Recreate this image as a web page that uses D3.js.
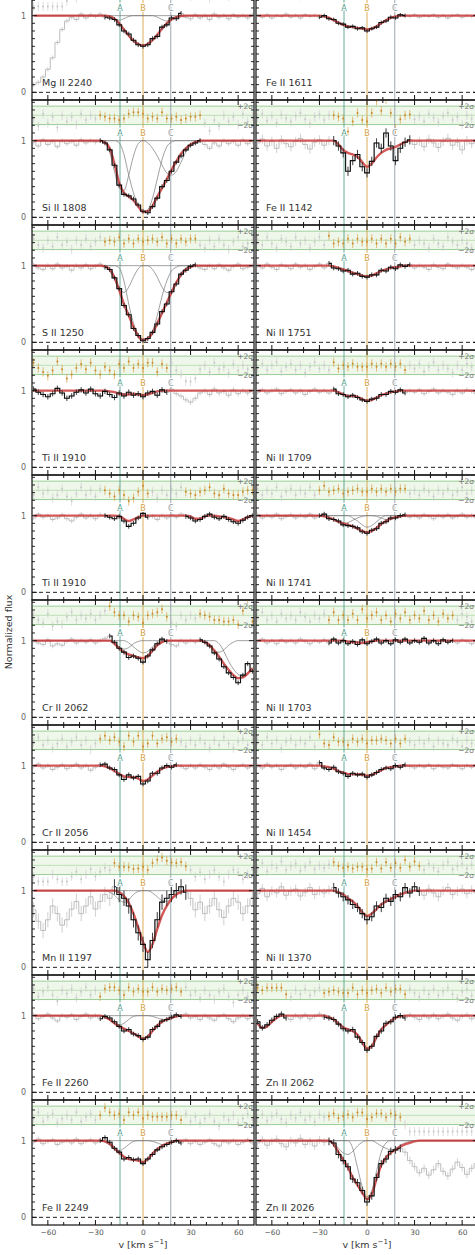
<!DOCTYPE html>
<html><head><meta charset="utf-8">
<script src="https://cdn.jsdelivr.net/npm/d3@7"></script>
<style>body{margin:0;background:#fff}svg{display:block}</style>
</head><body>
<script>
// velocity grid (km/s), one entry per spectral pixel
const velocity = [-69,-66,-63,-60,-57,-54,-51,-48,-45,-42,-39,-36,-33,-30,-27,-24,-21,-18,-15,-12,-9,-6,-3,0,3,6,9,12,15,18,21,24,27,30,33,36,39,42,45,48,51,54,57,60,63,66,69];

const panelLabels = ["Mg II 2240","Si II 1808","S II 1250","Ti II 1910","Ti II 1910","Cr II 2062","Cr II 2056","Mn II 1197","Fe II 2260","Fe II 2249",
                     "Fe II 1611","Fe II 1142","Ni II 1751","Ni II 1709","Ni II 1741","Ni II 1703","Ni II 1454","Ni II 1370","Zn II 2062","Zn II 2026"];
const componentNames = ["A","B","C"];
const componentVelocity = [-14.5, 0, 17.5];
const xTickLabels = [-60,-30,0,30,60];

// normalized flux
const fluxMgII2240 = [0.10,0.13,0.20,0.30,0.45,0.65,0.82,0.93,0.98,0.95,1.02,0.97,1.01,0.99,1.02,0.98, 0.97,0.95,0.88,0.80,0.76,0.68,0.62,0.60, 0.62,0.70,0.73,0.85,0.88,0.97,0.96,1.03,0.98,0.96,1.01,0.97, 1.00,0.95,1.02,0.98,1.00,0.96,1.01,0.98,1.00,0.97,1.01];
const fluxSiII1808 = [0.98,0.93,1.01,0.95,0.99,0.92,1.00,0.96,0.99,0.94,1.01,0.97,1.00,0.98,1.00,0.97, 0.88,0.68,0.42,0.30,0.28,0.24,0.16,0.08, 0.06,0.14,0.25,0.40,0.48,0.60,0.72,0.80,0.88,0.94,0.97,1.00, 0.95,0.90,0.97,0.93,1.00,0.96,0.99,0.94,1.01,0.96,0.99];
const fluxSII1250 = [1.01,0.97,0.95,1.00,0.96,1.02,0.97,0.99,0.94,1.00,0.97,1.01,0.96,0.99,1.02,0.98, 0.95,0.84,0.70,0.48,0.36,0.18,0.09,0.02, 0.05,0.13,0.24,0.40,0.50,0.66,0.76,0.89,0.94,0.99,1.01,0.97, 0.95,1.00,0.96,1.01,0.97,0.94,0.99,1.02,0.96,0.98,1.00];
const fluxTiII1910a = [1.02,0.98,0.95,0.92,0.96,1.03,0.97,0.90,0.93,0.98,1.01,0.97,1.02,0.96,0.93,0.99, 0.95,0.91,0.97,0.93,0.98,0.94,0.96,0.92, 0.97,0.99,0.94,1.01,0.98,1.02,0.96,0.93,0.88,0.85,0.90,0.97, 1.00,0.95,1.02,0.97,0.99,0.94,1.01,0.96,1.00,0.97,0.99];
const fluxTiII1910b = [0.97,1.02,0.98,1.00,0.95,0.97,1.01,0.96,0.93,0.98,1.02,0.97,1.00,0.96,1.01,1.00, 0.98,0.96,0.99,0.93,0.86,0.90,0.97,1.03, 0.98,0.99,0.95,1.00,0.97,1.01,0.98,1.02,0.99,0.97,0.93,0.95, 0.99,1.02,0.98,0.96,0.99,0.95,0.92,0.90,0.94,0.98,1.00];
const fluxCrII2062 = [1.00,0.97,0.95,1.01,0.93,0.96,0.94,0.99,1.02,0.97,1.00,0.98,1.01,0.97,1.00,1.03, 1.06,0.98,0.90,0.85,0.78,0.80,0.77,0.72, 0.80,0.88,0.96,1.02,0.99,0.95,0.93,1.00,0.97,1.00,0.98,1.01, 0.98,0.93,0.84,0.76,0.66,0.58,0.52,0.45,0.55,0.70,0.60];
const fluxCrII2056 = [0.99,1.02,0.97,1.00,0.95,0.98,1.01,0.96,0.99,1.02,0.97,1.00,0.94,0.98,1.01,1.02, 0.97,0.95,0.88,0.82,0.88,0.84,0.86,0.76, 0.80,0.90,0.90,0.97,1.00,0.98,1.01,0.99,0.96,1.00,0.97,1.01, 0.98,0.95,1.00,0.97,1.02,0.98,0.95,0.99,1.01,0.97,1.00];
const fluxMnII1197 = [0.75,0.60,0.48,0.62,0.80,0.70,0.55,0.62,0.76,0.86,0.70,0.80,0.92,0.76,0.86,0.95, 0.90,1.05,0.95,0.90,0.80,0.62,0.45,0.30, 0.10,0.35,0.62,0.85,0.90,0.95,1.00,1.05,0.98,0.90,0.75,0.85, 0.70,0.80,0.90,0.75,0.65,0.80,0.90,0.85,0.70,0.80,0.90];
const fluxFeII2260 = [1.01,0.96,0.99,1.02,0.97,0.93,1.00,0.98,1.01,0.95,0.99,1.02,0.97,1.00,0.96,0.99, 0.97,0.92,0.86,0.80,0.82,0.76,0.74,0.69, 0.72,0.82,0.86,0.93,0.95,0.98,1.01,0.99,1.02,0.97,0.99,0.95, 1.00,0.97,0.94,0.99,1.01,0.96,0.92,0.97,1.00,0.96,0.99];
const fluxFeII2249 = [0.98,1.02,0.96,0.99,1.01,0.95,0.98,1.00,0.97,1.02,0.96,0.99,1.01,0.97,1.00,1.04, 0.98,0.90,0.85,0.76,0.78,0.75,0.76,0.70, 0.76,0.82,0.88,0.92,0.95,0.98,1.00,0.97,1.01,0.96,0.99,0.95, 0.98,1.01,0.96,0.93,0.99,0.97,1.00,0.95,0.98,1.01,0.97];
const fluxFeII1611 = [1.00,0.98,1.01,0.97,1.00,0.99,1.02,0.98,1.00,0.97,1.01,0.99,1.00,0.98,1.00,0.96, 0.95,0.90,0.89,0.85,0.86,0.83,0.84,0.80, 0.83,0.85,0.91,0.93,0.98,0.97,1.01,1.00,0.99,1.01,0.98,1.00, 0.99,1.01,0.98,1.00,0.97,1.00,1.01,0.98,1.00,0.99,1.01];
const fluxFeII1142 = [0.97,1.02,0.93,0.99,0.90,1.01,0.96,0.92,0.99,1.03,0.95,0.89,0.98,1.01,0.94,1.00, 1.00,0.93,0.84,0.60,0.74,0.82,0.66,0.58, 0.73,0.97,0.90,1.10,0.93,0.74,0.90,0.98,1.01,0.95,0.99,0.92, 1.02,0.97,0.91,0.99,1.03,0.94,0.98,0.88,1.00,0.96,1.01];
const fluxNiII1751 = [1.00,0.97,1.02,0.98,0.95,1.01,0.99,0.96,1.02,0.98,1.00,0.95,0.99,1.02,0.97,1.03, 0.97,0.96,0.93,0.94,0.89,0.90,0.86,0.85, 0.88,0.88,0.94,0.93,0.98,0.96,1.01,0.99,1.01,0.97,1.00,0.98, 0.95,1.01,0.98,0.96,1.02,0.99,0.97,1.00,0.98,0.95,1.00];
const fluxNiII1709 = [0.98,1.01,0.97,1.00,1.02,0.96,0.99,1.01,0.97,1.00,0.95,0.99,1.02,0.98,1.00,0.97, 1.02,0.96,0.95,0.92,0.94,0.91,0.88,0.86, 0.89,0.90,0.95,0.95,0.99,0.98,1.01,0.97,1.00,0.98,1.01,0.96, 0.99,1.02,0.97,1.00,0.98,0.95,1.00,0.97,1.01,0.99,0.96];
const fluxNiII1741 = [1.01,0.97,1.00,0.98,1.02,0.96,0.99,1.01,0.97,1.00,0.98,1.02,0.97,1.00,1.02,0.96, 0.95,0.93,0.88,0.87,0.86,0.84,0.79,0.77, 0.81,0.83,0.90,0.92,0.97,0.97,1.00,1.01,0.98,1.00,0.97,1.01, 0.99,0.96,1.00,0.98,1.01,0.97,0.99,1.02,0.98,1.00,0.97];
const fluxNiII1703 = [0.99,1.02,0.97,1.00,0.96,1.01,0.98,1.00,0.97,1.02,0.99,0.96,1.00,0.98,1.01,0.97, 1.02,0.97,1.00,0.96,0.99,0.95,1.01,0.96, 0.99,1.02,0.97,1.00,0.96,1.01,0.98,1.02,0.97,1.00,0.98,1.03, 0.97,1.00,0.96,1.01,0.98,1.00,0.97,1.01,0.99,0.96,1.00];
const fluxNiII1454 = [1.00,0.97,1.02,0.98,1.00,0.95,0.99,1.01,0.97,1.00,0.98,1.02,0.96,1.04,0.97,0.95, 0.98,0.92,0.90,0.86,0.90,0.88,0.89,0.85, 0.88,0.91,0.95,0.97,0.96,1.00,0.98,1.01,0.99,0.97,1.00,0.98, 1.01,0.96,1.00,0.98,0.97,1.01,0.99,0.96,1.00,0.98,1.01];
const fluxNiII1370 = [0.96,1.03,0.92,1.00,0.97,1.05,0.94,0.99,1.02,0.93,0.98,1.04,0.95,1.00,0.97,1.01, 1.04,0.97,0.92,0.88,0.82,0.78,0.70,0.62, 0.66,0.80,0.78,0.90,0.86,0.95,0.92,1.04,0.97,1.05,0.99,0.94, 1.02,0.97,0.92,1.00,1.04,0.95,0.99,1.02,0.96,1.01,0.97];
const fluxZnII2062 = [0.92,0.84,0.88,0.94,0.99,1.02,0.97,0.95,1.00,0.97,1.01,0.96,0.99,1.02,0.98,0.97, 0.95,0.89,0.83,0.80,0.82,0.72,0.65,0.55, 0.60,0.73,0.80,0.90,0.92,0.98,1.00,0.97,1.01,0.98,0.95,1.00, 0.97,1.01,0.96,0.99,1.02,0.97,0.94,0.99,1.01,0.96,1.00];
const fluxZnII2026 = [0.97,1.01,0.94,0.99,1.02,0.96,0.92,1.00,0.97,1.03,0.95,0.99,0.93,1.01,0.98,0.99, 0.97,0.82,0.74,0.66,0.50,0.45,0.35,0.20, 0.28,0.52,0.70,0.76,0.86,0.88,0.90,0.85,0.74,0.66,0.58,0.64, 0.55,0.62,0.70,0.60,0.54,0.63,0.72,0.65,0.56,0.64,0.70];

// 1-sigma flux uncertainty per panel
const fluxErrors = [0.03,0.03,0.03,0.035,0.03,0.03,0.03,0.1,0.03,0.03, 0.025,0.06,0.03,0.03,0.03,0.03,0.03,0.06,0.035,0.05];

// velocity ranges included in the fit
const fitRanges = [
  [[-24,24]], [[-27,36]], [[-24,33]], [[-69,15]], [[-24,3],[27,69]], [[-21,15],[36,69]], [[-27,21]], [[-18,27]], [[-27,24]], [[-27,24]],
  [[-30,24]], [[-21,27]], [[-24,27]], [[-21,24]], [[-30,24]], [[-24,54]], [[-30,24]], [[-21,33]], [[-69,-51],[-27,24]], [[-24,21]]
];

// fitted profiles: [first velocity, values...]; continuum (1) elsewhere
function onGrid(...parts) {
  const out = velocity.map(() => 1);
  parts.forEach(([from, vals]) => {
    const i0 = velocity.indexOf(from);
    vals.forEach((f, k) => { if (i0 + k < out.length) out[i0 + k] = f; });
  });
  return out;
}

const modelMgII2240 = onGrid([-24, [1,0.99,0.96,0.9,0.82,0.74,0.67,0.63,0.61,0.63,0.68,0.75,0.83,0.9,0.95,0.98,0.995,1]]);
const modelSiII1808 = onGrid([-27, [1,0.98,0.9,0.7,0.45,0.32,0.27,0.22,0.14,0.07,0.08,0.15,0.27,0.38,0.5,0.62,0.73,0.83,0.9,0.95,0.98,1]]);
const modelSII1250 = onGrid([-27, [1,0.99,0.95,0.85,0.68,0.5,0.35,0.2,0.08,0.03,0.05,0.12,0.25,0.38,0.52,0.65,0.78,0.88,0.95,0.98,1]]);
const modelTiII1910a = onGrid([-24, [1,0.99,0.98,0.96,0.95,0.95,0.96,0.95,0.94,0.95,0.97,0.99,1]]);
const modelTiII1910b = onGrid([-18, [1,0.99,0.96,0.93,0.95,0.98,1]], [30, [0.99,0.96,0.96,0.99,1,1,0.99,0.98,0.97,0.95,0.93,0.95,0.98,1]]);
const modelCrII2062 = onGrid([-21, [1,0.96,0.9,0.85,0.82,0.8,0.78,0.77,0.8,0.87,0.94,0.98,1]], [36, [1,0.98,0.94,0.87,0.79,0.7,0.62,0.55,0.51,0.52,0.57,0.64]]);
const modelCrII2056 = onGrid([-27, [1,0.99,0.97,0.93,0.89,0.86,0.85,0.85,0.83,0.8,0.82,0.87,0.92,0.96,0.98,0.99,1]]);
const modelMnII1197 = onGrid([-18, [1,0.98,0.93,0.84,0.7,0.52,0.33,0.2,0.3,0.5,0.68,0.8,0.89,0.95,0.98,1]]);
const modelFeII2260 = onGrid([-27, [1,0.98,0.95,0.9,0.86,0.83,0.8,0.77,0.73,0.7,0.73,0.8,0.87,0.92,0.95,0.97,0.99,1]]);
const modelFeII2249 = onGrid([-27, [1,0.99,0.96,0.9,0.84,0.79,0.76,0.75,0.74,0.72,0.76,0.83,0.89,0.93,0.96,0.98,1]]);
const modelFeII1611 = onGrid([-30, [1,0.99,0.97,0.94,0.91,0.88,0.86,0.85,0.84,0.83,0.82,0.83,0.86,0.9,0.94,0.97,0.99,1]]);
const modelFeII1142 = onGrid([-21, [1,0.95,0.88,0.84,0.82,0.79,0.72,0.66,0.7,0.78,0.84,0.88,0.9,0.92,0.95,0.98,1]]);
const modelNiII1751 = onGrid([-24, [1,0.99,0.97,0.95,0.93,0.91,0.89,0.87,0.86,0.87,0.9,0.93,0.95,0.97,0.98,0.99,1]]);
const modelNiII1709 = onGrid([-21, [1,0.98,0.95,0.93,0.93,0.92,0.89,0.87,0.88,0.91,0.94,0.96,0.98,0.99,1]]);
const modelNiII1741 = onGrid([-30, [1,0.99,0.97,0.95,0.92,0.9,0.88,0.86,0.83,0.8,0.78,0.8,0.84,0.89,0.93,0.96,0.98,0.99,1]]);
const modelNiII1703 = onGrid([-15, [1,0.99,0.98,0.98,0.97,0.98,0.99,1]]);
const modelNiII1454 = onGrid([-30, [1,0.99,0.98,0.96,0.93,0.91,0.89,0.89,0.89,0.88,0.87,0.88,0.91,0.94,0.97,0.98,0.99,1]]);
const modelNiII1370 = onGrid([-21, [1,0.98,0.95,0.9,0.86,0.8,0.72,0.67,0.7,0.76,0.82,0.86,0.89,0.92,0.95,0.97,0.99,1]]);
const modelZnII2062 = onGrid([-69, [0.9,0.84,0.86,0.92,0.97,1]], [-27, [1,0.98,0.95,0.9,0.85,0.82,0.8,0.75,0.65,0.57,0.6,0.72,0.82,0.88,0.93,0.97,0.99,1]]);
const modelZnII2026 = onGrid([-24, [1,0.95,0.85,0.75,0.65,0.52,0.42,0.32,0.24,0.3,0.5,0.68,0.78,0.84,0.88,0.92,0.95,0.97,0.99,1]]);

// individual velocity components where they stand out from the total
const compsMgII2240 = [onGrid([-24, [1,0.98,0.95,0.94,0.96,0.99,1]]), onGrid([6, [1,0.98,0.95,0.93,0.95,0.98,1]])];
const compsSiII1808 = [
  onGrid([-27, [1,0.97,0.85,0.6,0.38,0.35,0.55,0.8,0.96,1]]),
  onGrid([-18, [1,0.97,0.82,0.55,0.32,0.16,0.08,0.1,0.25,0.5,0.75,0.92,0.98,1]]),
  onGrid([-3, [1,1,0.97,0.9,0.8,0.68,0.58,0.55,0.6,0.72,0.85,0.94,0.98,1]])];
const compsSII1250 = [
  onGrid([-27, [1,0.99,0.93,0.82,0.7,0.65,0.72,0.85,0.96,1]]),
  onGrid([-18, [1,0.97,0.8,0.5,0.25,0.1,0.04,0.06,0.15,0.35,0.6,0.8,0.93,0.98,1]]),
  onGrid([3, [1,0.95,0.85,0.72,0.65,0.66,0.78,0.9,0.97,1]])];
const compsCrII2062 = [
  onGrid([-21, [1,0.97,0.92,0.89,0.91,0.96,0.99,1]], [36, [1,0.98,0.93,0.87,0.85,0.88,0.94,0.98,1]]),
  onGrid([-12, [1,0.97,0.92,0.87,0.84,0.86,0.92,0.97,1]], [45, [1,0.96,0.86,0.73,0.63,0.56,0.54,0.58,0.65]])];
const compsMnII1197 = [onGrid([-24, [1,0.98,0.94,0.88,0.85,0.88,0.95,0.99,1]]), onGrid([3, [1,0.97,0.92,0.87,0.86,0.9,0.96,0.99,1]])];
const compsFeII2260 = [onGrid([-27, [1,0.98,0.94,0.9,0.88,0.9,0.95,0.99,1]]), onGrid([3, [1,0.99,0.97,0.95,0.94,0.96,0.99,1]])];
const compsFeII2249 = [onGrid([-27, [1,0.98,0.94,0.89,0.87,0.9,0.95,0.99,1]]), onGrid([3, [1,0.99,0.97,0.95,0.95,0.97,0.99,1]])];
const compsNiII1741 = [onGrid([-27, [1,0.98,0.95,0.92,0.9,0.91,0.94,0.97,0.99,1]]), onGrid([-12, [1,0.97,0.93,0.88,0.85,0.87,0.92,0.97,1]]), onGrid([3, [1,0.99,0.97,0.95,0.95,0.97,0.99,1]])];
const compsZnII2026 = [
  onGrid([-24, [1,0.97,0.9,0.84,0.82,0.86,0.93,0.98,1]]),
  onGrid([-12, [1,0.9,0.65,0.4,0.27,0.35,0.6,0.85,0.97,1]]),
  onGrid([3, [1,0.97,0.93,0.9,0.88,0.9,0.94,0.97,0.99,1]])];

const fluxes = [fluxMgII2240,fluxSiII1808,fluxSII1250,fluxTiII1910a,fluxTiII1910b,fluxCrII2062,fluxCrII2056,fluxMnII1197,fluxFeII2260,fluxFeII2249,
                fluxFeII1611,fluxFeII1142,fluxNiII1751,fluxNiII1709,fluxNiII1741,fluxNiII1703,fluxNiII1454,fluxNiII1370,fluxZnII2062,fluxZnII2026];
const models = [modelMgII2240,modelSiII1808,modelSII1250,modelTiII1910a,modelTiII1910b,modelCrII2062,modelCrII2056,modelMnII1197,modelFeII2260,modelFeII2249,
                modelFeII1611,modelFeII1142,modelNiII1751,modelNiII1709,modelNiII1741,modelNiII1703,modelNiII1454,modelNiII1370,modelZnII2062,modelZnII2026];
const components = [compsMgII2240,compsSiII1808,compsSII1250,[],[],compsCrII2062,[],compsMnII1197,compsFeII2260,compsFeII2249,
                    [],[],[],[],compsNiII1741,[],[],[],[],compsZnII2026];

// ---------------- drawing ----------------
const W = 475, H = 1255;
const svg = d3.select("body").append("svg").attr("width", W).attr("height", H)
  .style("font-family", "'DejaVu Sans', sans-serif");
const defs = svg.append("defs");

const columns = [[32, 254], [256, 478]];
const rowHeight = 125, firstTop = -25;
const yDomain = [-0.1, 1.53];
const resMid = 1.33, resHalf = 0.12;   // residual strip: centre and +-2 sigma
const compColor = ["#4f9c8b", "#d6a03c", "#8d9ca6"];

const stepLine = (x, y) => d3.line().x(d => x(d.v)).y(d => y(d.f)).curve(d3.curveStep);
const smoothLine = (x, y) => d3.line().x(d => x(d.v)).y(d => y(d.f)).curve(d3.curveMonotoneX);

panelLabels.forEach((label, k) => {
  const col = k < 10 ? 0 : 1, row = k % 10;
  const [xa, xb] = columns[col];
  const top = firstTop + rowHeight * row;
  const x = d3.scaleLinear().domain([-70, 70]).range([xa, xb]);
  const y = d3.scaleLinear().domain(yDomain).range([top + rowHeight, top]);
  const sigma = fluxErrors[k];
  const fits = fitRanges[k];
  const inFit = v => fits.some(([a, b]) => v >= a && v <= b);
  const pts = velocity.map((v, i) => ({ v, f: fluxes[k][i], m: models[k][i] }));

  const clipId = "clip" + k;
  defs.append("clipPath").attr("id", clipId).append("rect")
    .attr("x", xa).attr("y", top).attr("width", xb - xa).attr("height", rowHeight);
  const g = svg.append("g").attr("clip-path", `url(#${clipId})`);

  // residual strip
  g.append("rect").attr("x", xa).attr("width", xb - xa)
    .attr("y", y(resMid + resHalf)).attr("height", y(resMid - resHalf) - y(resMid + resHalf))
    .attr("fill", "#eef7ea");
  [resMid + resHalf, resMid, resMid - resHalf].forEach((lv, j) => {
    g.append("line").attr("x1", xa).attr("x2", xb).attr("y1", y(lv)).attr("y2", y(lv))
      .attr("stroke", j === 1 ? "#b9dcb0" : "#8fc98a").attr("stroke-width", 0.9);
  });

  // component markers
  componentVelocity.forEach((cv, j) => {
    g.append("line").attr("x1", x(cv)).attr("x2", x(cv)).attr("y1", top).attr("y2", top + rowHeight)
      .attr("stroke", compColor[j]).attr("stroke-width", 1).attr("opacity", 0.85);
  });

  // full spectrum in grey
  g.append("g").selectAll("line").data(pts).join("line")
    .attr("x1", d => x(d.v)).attr("x2", d => x(d.v))
    .attr("y1", d => y(d.f - sigma)).attr("y2", d => y(d.f + sigma))
    .attr("stroke", "#c4c4c4").attr("stroke-width", 0.8);
  g.append("path").datum(pts).attr("d", stepLine(x, y))
    .attr("fill", "none").attr("stroke", "#bdbdbd").attr("stroke-width", 1);

  // residuals
  const res = pts.map(d => ({ v: d.v, r: Math.max(-3.5, Math.min(3.5, (d.f - d.m) / sigma)), fit: inFit(d.v) }));
  const ry = r => y(resMid + r * resHalf / 2);
  g.append("g").selectAll("line").data(res).join("line")
    .attr("x1", d => x(d.v)).attr("x2", d => x(d.v))
    .attr("y1", d => ry(d.r - 1)).attr("y2", d => ry(d.r + 1))
    .attr("stroke", d => d.fit ? "#d9a24a" : "#d0d0d0").attr("stroke-width", 0.7);
  g.append("g").selectAll("circle").data(res).join("circle")
    .attr("cx", d => x(d.v)).attr("cy", d => ry(d.r)).attr("r", 1)
    .attr("fill", d => d.fit ? "#c98a2a" : "#c8c8c8");

  // individual components
  components[k].forEach(c => {
    g.append("path").datum(velocity.map((v, i) => ({ v, f: c[i] })))
      .attr("d", smoothLine(x, y)).attr("fill", "none")
      .attr("stroke", "#777").attr("stroke-width", 0.7);
  });

  // total model
  g.append("path").datum(pts.map(d => ({ v: d.v, f: d.m })))
    .attr("d", smoothLine(x, y)).attr("fill", "none")
    .attr("stroke", "#cc3b3b").attr("stroke-width", 2.4).attr("opacity", 0.85);

  // fitted pixels in black
  fits.forEach(([a, b]) => {
    const seg = pts.filter(d => d.v >= a && d.v <= b);
    g.append("g").selectAll("line").data(seg).join("line")
      .attr("x1", d => x(d.v)).attr("x2", d => x(d.v))
      .attr("y1", d => y(d.f - sigma)).attr("y2", d => y(d.f + sigma))
      .attr("stroke", "#222").attr("stroke-width", 0.8);
    g.append("path").datum(seg).attr("d", stepLine(x, y))
      .attr("fill", "none").attr("stroke", "#111").attr("stroke-width", 1.1);
  });

  // zero level
  g.append("line").attr("x1", xa).attr("x2", xb).attr("y1", y(0)).attr("y2", y(0))
    .attr("stroke", "#222").attr("stroke-width", 1).attr("stroke-dasharray", "4,3");

  // component letters
  componentNames.forEach((n, j) => {
    g.append("text").attr("x", x(componentVelocity[j])).attr("y", y(1.06))
      .attr("text-anchor", "middle").attr("font-size", 8).attr("fill", compColor[j])
      .attr("stroke", "#fff").attr("stroke-width", 2).attr("paint-order", "stroke").text(n);
  });

  // sigma labels (only where the strip lies inside the figure)
  const sx = Math.min(xb, W) - 1;
  [["+2σ", resMid + resHalf], ["−2σ", resMid - resHalf]].forEach(([t, lv]) => {
    if (y(lv) - 4 < 0) return;
    g.append("text").attr("x", sx).attr("y", y(lv) + 3).attr("text-anchor", "end")
      .attr("font-size", 7.5).attr("fill", "#777").text(t);
  });

  // panel label
  svg.append("text").attr("x", xa + 10).attr("y", y(0) - 6)
    .attr("font-size", 9.5).attr("fill", "#333").text(label);

  // frame and ticks
  const f = svg.append("g").attr("stroke", "#111");
  f.append("rect").attr("x", xa).attr("y", top).attr("width", xb - xa).attr("height", rowHeight)
    .attr("fill", "none").attr("stroke-width", 1.2);
  const xt = d3.range(-60, 61, 10);
  xt.forEach(v => {
    const len = v % 30 === 0 ? 5 : 3;
    f.append("line").attr("x1", x(v)).attr("x2", x(v)).attr("y1", top).attr("y2", top + len).attr("stroke-width", 1);
    f.append("line").attr("x1", x(v)).attr("x2", x(v)).attr("y1", top + rowHeight).attr("y2", top + rowHeight - len).attr("stroke-width", 1);
  });
  const yt = d3.range(0, 16).map(i => i / 10);
  yt.forEach(t => {
    const len = (t === 0 || t === 1) ? 5 : 3;
    f.append("line").attr("x1", xa).attr("x2", xa + len).attr("y1", y(t)).attr("y2", y(t)).attr("stroke-width", 0.9);
    f.append("line").attr("x1", xb).attr("x2", xb - len).attr("y1", y(t)).attr("y2", y(t)).attr("stroke-width", 0.9);
  });

  if (col === 0) {
    [1, 0].forEach(t => svg.append("text").attr("x", xa - 6).attr("y", y(t) + 3)
      .attr("text-anchor", "end").attr("font-size", 8).attr("fill", "#666").text(t));
  }

  if (row === 9) {
    const ax = svg.append("g").attr("transform", `translate(0,${top + rowHeight})`)
      .call(d3.axisBottom(x).tickValues(xTickLabels).tickSize(0).tickPadding(5)
        .tickFormat(d => d < 0 ? "−" + Math.abs(d) : d));
    ax.select(".domain").remove();
    ax.selectAll("text").attr("font-size", 7.5).attr("fill", "#555").attr("font-family", "'DejaVu Sans', sans-serif");
    const xl = svg.append("text").attr("x", x(0)).attr("y", 1248).attr("text-anchor", "middle")
      .attr("font-size", 9.5).attr("fill", "#333");
    xl.append("tspan").text("v [km s");
    xl.append("tspan").attr("dy", -4).attr("font-size", 7).text("−1");
    xl.append("tspan").attr("dy", 4).text("]");
  }
});

svg.append("text").attr("transform", "translate(12,632) rotate(-90)")
  .attr("text-anchor", "middle").attr("font-size", 9.5).attr("fill", "#333").text("Normalized flux");
</script>
</body></html>
